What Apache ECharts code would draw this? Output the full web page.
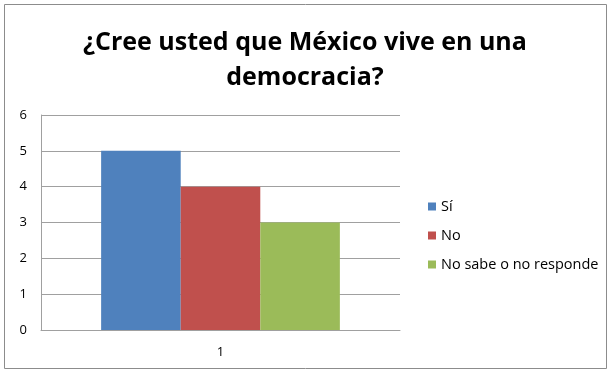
<!DOCTYPE html>
<html>
<head>
<meta charset="utf-8">
<script src="https://cdn.jsdelivr.net/npm/echarts@6/dist/echarts.min.js"></script>
<style>
  html, body { margin: 0; padding: 0; background: #fff; }
  #chart { width: 610px; height: 373px; }
</style>
</head>
<body>
<div id="chart"></div>
<script>
// Survey answers for a single category
const categories = ['1'];
const seriesNames = ['Sí', 'No', 'No sabe o no responde'];
const valuesSi = [5];
const valuesNo = [4];
const valuesNoSabe = [3];
const yTicks = [0, 1, 2, 3, 4, 5, 6];

const colors = ['#4f81bd', '#c0504d', '#9bbb59'];
const font = '"Open Sans", "Noto Sans", sans-serif';

const chart = echarts.init(document.getElementById('chart'), null, { renderer: 'canvas' });

const seriesData = [valuesSi, valuesNo, valuesNoSabe];

chart.setOption({
  animation: false,
  color: colors,
  title: {
    text: '¿Cree usted que México vive en una\ndemocracia?',
    left: 'center',
    top: 20,
    textStyle: {
      fontFamily: font,
      fontWeight: 'bold',
      fontSize: 25,
      lineHeight: 35,
      color: '#000'
    }
  },
  graphic: [{
    type: 'rect',
    shape: { x: 4.5, y: 4.5, width: 602, height: 364 },
    style: { fill: 'none', stroke: '#8c8c8c', lineWidth: 1 },
    silent: true
  }],
  legend: {
    orient: 'vertical',
    left: 423,
    top: 194,
    itemWidth: 8,
    itemHeight: 8,
    itemGap: 14,
    icon: 'rect',
    textStyle: { fontFamily: font, fontSize: 14.5, color: '#000', padding: [0, 0, 0, 0] },
    data: seriesNames
  },
  grid: {
    left: 41,
    right: 210,
    top: 115,
    bottom: 43,
    containLabel: false
  },
  xAxis: {
    type: 'category',
    data: categories,
    axisLine: { show: true, lineStyle: { color: '#a0a0a0' } },
    axisTick: { show: false },
    axisLabel: { fontFamily: font, fontSize: 13, color: '#000', margin: 16 }
  },
  yAxis: {
    type: 'value',
    min: yTicks[0],
    max: yTicks[yTicks.length - 1],
    interval: 1,
    axisLine: { show: true, lineStyle: { color: '#a0a0a0' } },
    axisTick: { show: false },
    axisLabel: { fontFamily: font, fontSize: 13, color: '#000', margin: 14 },
    splitLine: { show: true, lineStyle: { color: '#a0a0a0' } }
  },
  series: seriesNames.map((name, i) => ({
    name: name,
    type: 'bar',
    data: seriesData[i],
    barGap: '0%',
    barCategoryGap: '33.5%'
  }))
});
</script>
</body>
</html>
